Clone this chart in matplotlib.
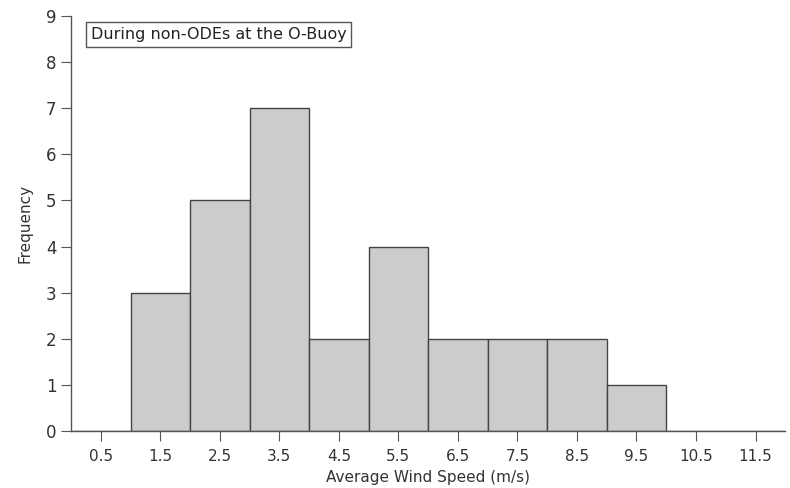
import numpy as np
import matplotlib.pyplot as plt

### data
bin_centers = [0.5, 1.5, 2.5, 3.5, 4.5, 5.5, 6.5, 7.5, 8.5, 9.5, 10.5, 11.5]
counts = [0, 3, 5, 7, 2, 4, 2, 2, 2, 1, 0, 0]
tick_labels = ['0.5', '1.5', '2.5', '3.5', '4.5', '5.5', '6.5', '7.5', '8.5', '9.5', '10.5', '11.5']

plt.rcParams['font.family'] = ['DejaVu Sans']

fig = plt.figure(figsize=(7.9, 4.88), dpi=100)
ax = fig.add_axes([0.09, 0.117, 0.904, 0.85])

ax.bar(bin_centers, counts, width=1.0, color='#cccccc', edgecolor='#444444', linewidth=1.0)

ax.set_xlim(0, 12)
ax.set_ylim(0, 9)
ax.set_xticks(bin_centers)
ax.set_xticklabels(tick_labels)
ax.set_yticks(np.arange(0, 10))

for side in ['top', 'right']:
    ax.spines[side].set_visible(False)
for side in ['left', 'bottom']:
    ax.spines[side].set_color('#555555')
    ax.spines[side].set_linewidth(1.0)
ax.tick_params(axis='both', direction='out', length=7, color='#555555', labelsize=11,
               labelcolor='#333333')
ax.tick_params(axis='y', labelsize=12)
ax.tick_params(axis='x', pad=6)

ax.set_xlabel('Average Wind Speed (m/s)', fontsize=11, color='#333333', labelpad=4)
ax.set_ylabel('Frequency', fontsize=11, color='#333333', labelpad=10)

ax.text(0.33, 8.6, 'During non-ODEs at the O-Buoy', fontsize=11.5, color='#222222',
        va='center', ha='left',
        bbox=dict(boxstyle='square,pad=0.3', facecolor='white', edgecolor='#555555', linewidth=1.0))

fig.savefig('out.png', dpi=100)
